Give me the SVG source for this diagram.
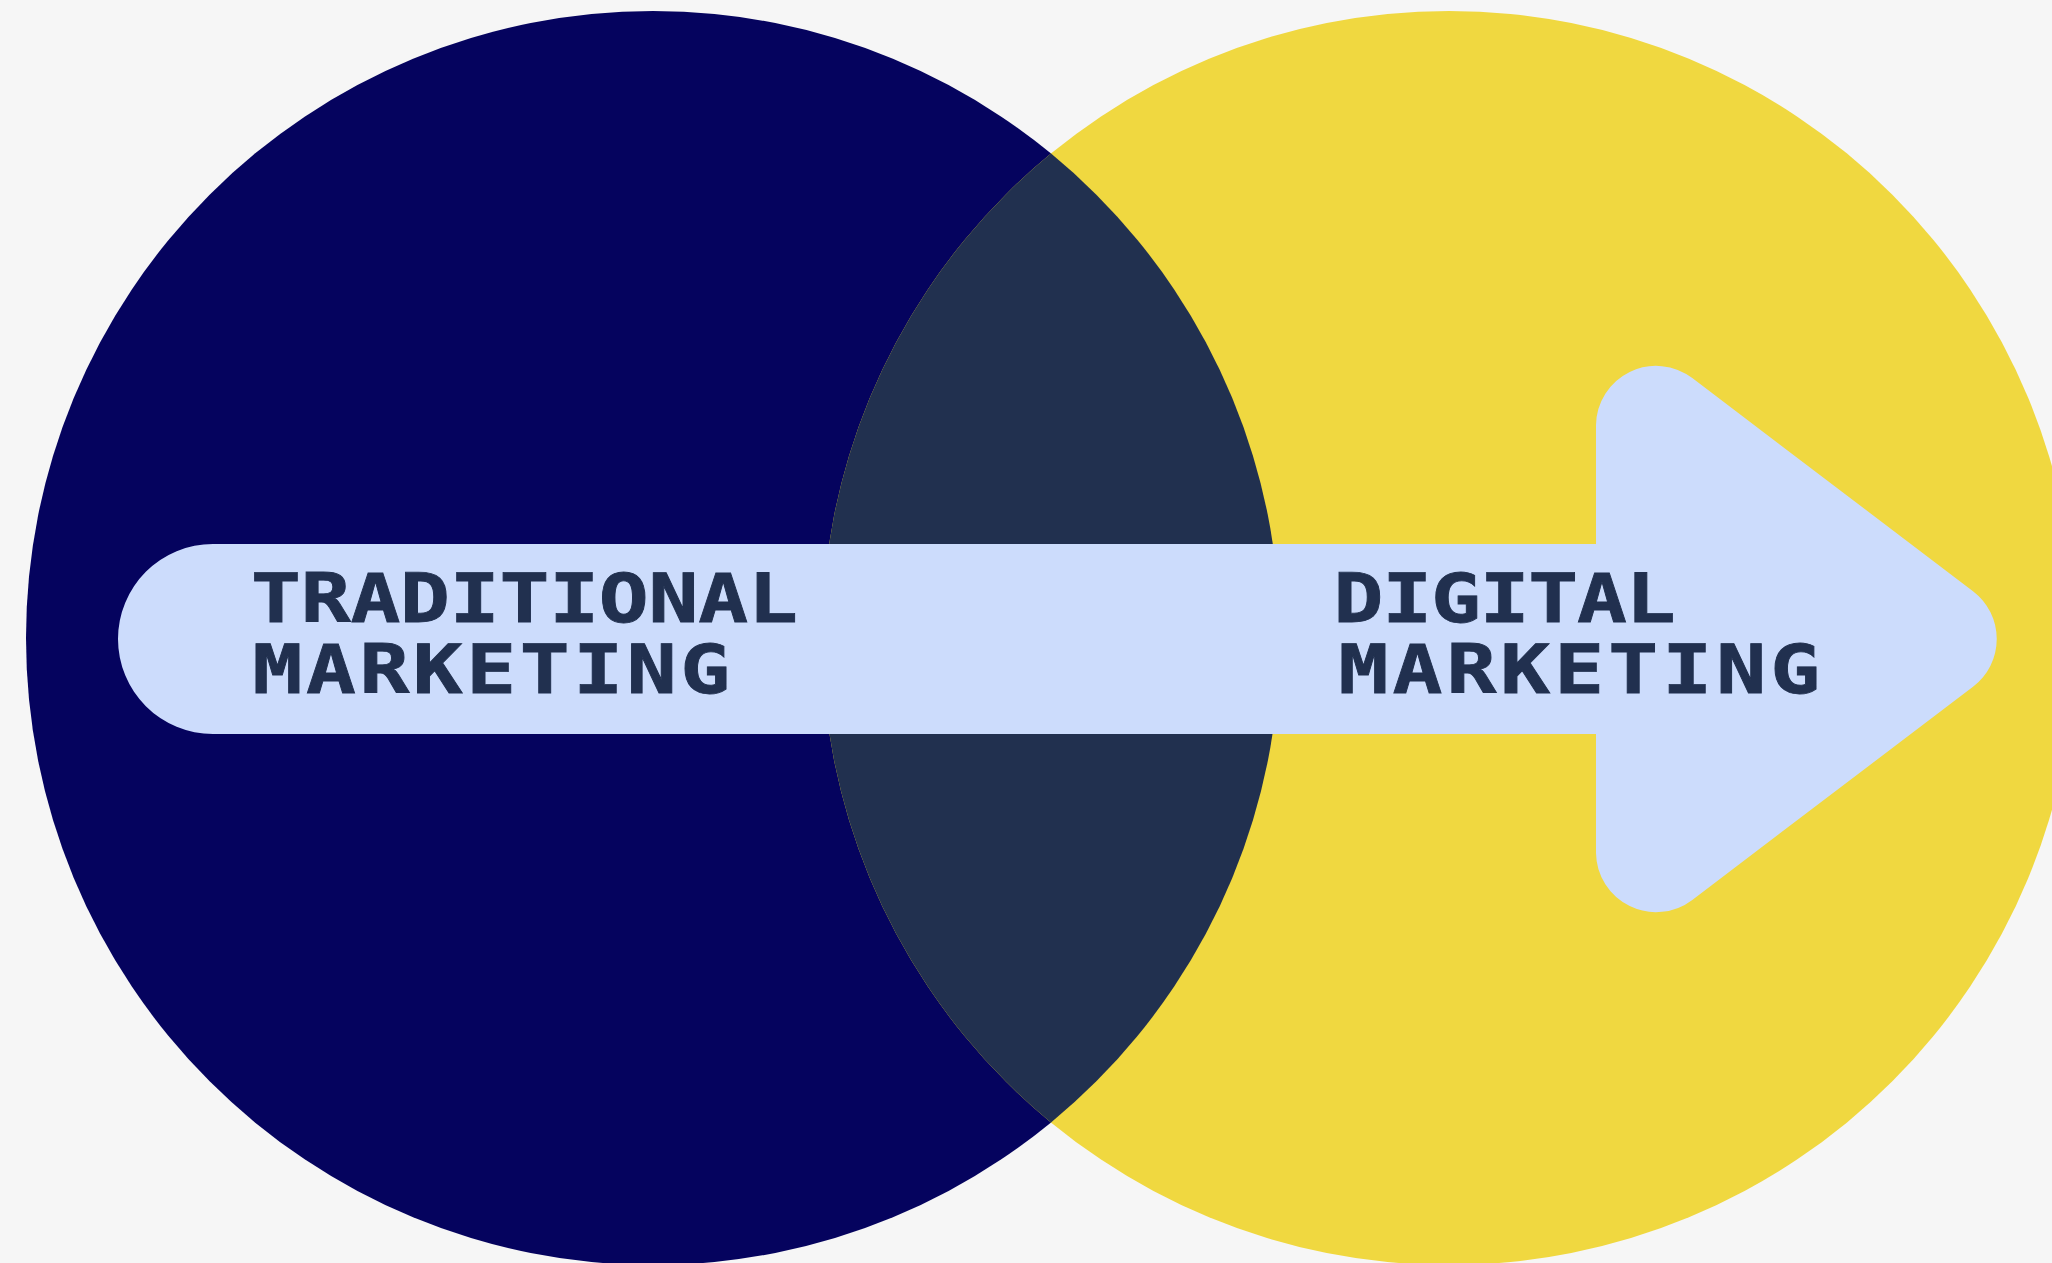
<svg xmlns="http://www.w3.org/2000/svg" width="2052" height="1263" viewBox="0 0 2052 1263">
  <style>
    .label { font-family: "DejaVu Sans Mono", "Liberation Mono", monospace; font-weight: bold; font-size: 68px; fill: #21304F; stroke: #21304F; stroke-width: 0.8px; }
  </style>
  <defs>
    <clipPath id="leftClip">
      <circle cx="653" cy="638" r="627"/>
    </clipPath>
  </defs>
  <rect width="2052" height="1263" fill="#F6F6F6"/>
  <g id="traditional-circle">
    <circle cx="653" cy="638" r="627" fill="#05035E"/>
  </g>
  <g id="digital-circle">
    <circle cx="1449" cy="638" r="627" fill="#F0D840"/>
  </g>
  <g id="overlap">
    <circle cx="1449" cy="638" r="627" fill="#21304F" clip-path="url(#leftClip)"/>
  </g>
  <g id="connectors">
    <path d="M 213 544 H 1596 V 425 A 60 60 0 0 1 1692.3 378.1 L 1973 591.2 A 60 60 0 0 1 1973 686.8 L 1692.3 899.9 A 60 60 0 0 1 1596 853 V 734 H 213 A 95 95 0 0 1 213 544 Z" fill="#CCDCFC"/>
  </g>
  <g id="traditional-label">
    <text class="label" transform="translate(251 622) scale(1.22 1)"><tspan x="0" y="0" letter-spacing="-0.2">TRADITIONAL</tspan><tspan x="1.2" y="71" letter-spacing="2.9">MARKETING</tspan></text>
  </g>
  <g id="digital-label">
    <text class="label" transform="translate(1333.5 622) scale(1.22 1)"><tspan x="0" y="0" letter-spacing="-1">DIGITAL</tspan><tspan x="4.1" y="71" letter-spacing="3.3">MARKETING</tspan></text>
  </g>
</svg>
